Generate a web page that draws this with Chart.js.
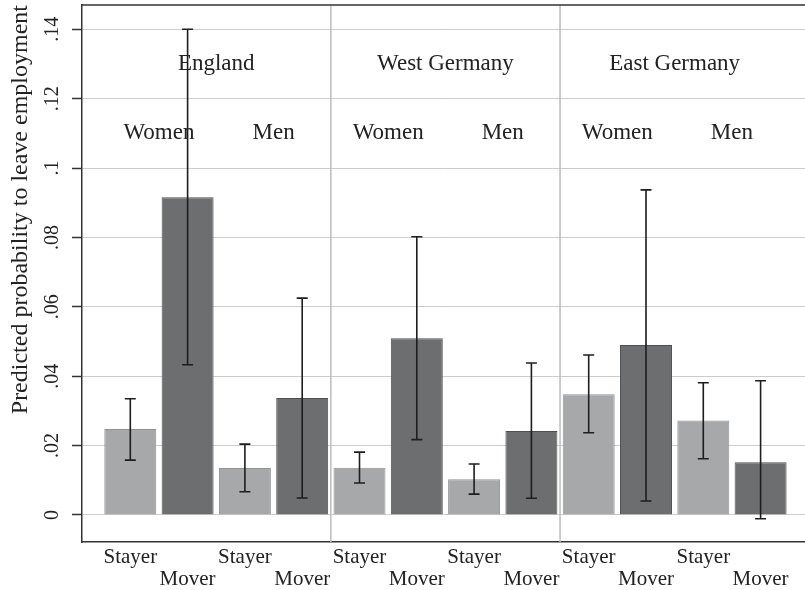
<!DOCTYPE html>
<html>
<head>
<meta charset="utf-8">
<script src="https://cdn.jsdelivr.net/npm/chart.js@4.4.0/dist/chart.umd.min.js"></script>
<style>
  html, body { margin: 0; padding: 0; background: #fff; }
</style>
</head>
<body>
<canvas id="grafico" width="805" height="590"></canvas>
<script>
// dados (12 barras: pais > sexo > stayer/mover)
const paises = ['England', 'West Germany', 'East Germany']
const sexos = ['Women', 'Men']
const tipos = ['Stayer', 'Mover']
const posicoes = [1, 2, 3, 4, 5, 6, 7, 8, 9, 10, 11, 12]
const probabilidade = [0.0248, 0.0916, 0.0135, 0.0337, 0.0136, 0.0509, 0.0103, 0.0242, 0.0348, 0.0490, 0.0272, 0.0152]
const limiteInferior = [0.0158, 0.0433, 0.0067, 0.0049, 0.0092, 0.0217, 0.0060, 0.0048, 0.0237, 0.0040, 0.0162, -0.0011]
const limiteSuperior = [0.0335, 0.1400, 0.0204, 0.0625, 0.0181, 0.0802, 0.0147, 0.0438, 0.0461, 0.0937, 0.0381, 0.0387]
const ticksY = [0, 0.02, 0.04, 0.06, 0.08, 0.1, 0.12, 0.14]

const fonte = "'Liberation Serif', 'Times New Roman', serif"
const corTexto = '#222222'
Chart.defaults.font.family = fonte
Chart.defaults.color = corTexto

const extras = {
    id: 'extras',
    beforeDatasetsDraw(chart) {
        const ctx = chart.ctx
        const area = chart.chartArea
        const x = chart.scales.x
        ctx.save()
        ctx.strokeStyle = '#bdbdbd'
        ctx.lineWidth = 1.5
        for (let p = 1; p < paises.length; p++) {
            const px = x.getPixelForValue(p * 4 + 0.5)
            ctx.beginPath()
            ctx.moveTo(px, area.top)
            ctx.lineTo(px, area.bottom)
            ctx.stroke()
        }
        ctx.restore()
    },
    afterDatasetsDraw(chart) {
        const ctx = chart.ctx
        const x = chart.scales.x
        const y = chart.scales.y
        ctx.save()
        ctx.fillStyle = corTexto
        ctx.font = `23px ${fonte}`
        ctx.textAlign = 'center'
        ctx.textBaseline = 'middle'
        for (let p = 0; p < paises.length; p++) {
            ctx.fillText(paises[p], x.getPixelForValue(p * 4 + 2.5), y.getPixelForValue(0.13))
            for (let s = 0; s < sexos.length; s++) {
                ctx.fillText(sexos[s], x.getPixelForValue(p * 4 + s * 2 + 1.5), y.getPixelForValue(0.11))
            }
        }
        // barras de erro
        ctx.strokeStyle = '#1e1e1e'
        ctx.lineWidth = 1.6
        for (let i = 0; i < posicoes.length; i++) {
            const px = x.getPixelForValue(posicoes[i])
            const topo = y.getPixelForValue(limiteSuperior[i])
            const base = y.getPixelForValue(limiteInferior[i])
            ctx.beginPath()
            ctx.moveTo(px, topo)
            ctx.lineTo(px, base)
            ctx.moveTo(px - 5.5, topo)
            ctx.lineTo(px + 5.5, topo)
            ctx.moveTo(px - 5.5, base)
            ctx.lineTo(px + 5.5, base)
            ctx.stroke()
        }
        ctx.restore()
    },
    afterDraw(chart) {
        const ctx = chart.ctx
        const area = chart.chartArea
        ctx.save()
        ctx.strokeStyle = '#333333'
        ctx.lineWidth = 1.5
        ctx.beginPath()
        ctx.moveTo(area.left, area.top)
        ctx.lineTo(area.right, area.top)
        ctx.stroke()
        ctx.restore()
    }
}

const grafico = new Chart(document.getElementById('grafico'), {
    type: 'bar',
    data: {
        datasets: [{
            data: posicoes.map((p, i) => ({ x: p, y: probabilidade[i] })),
            backgroundColor: posicoes.map((p, i) => i % 2 === 0 ? '#a7a8aa' : '#6d6e70'),
            borderColor: posicoes.map((p, i) => i % 2 === 0 ? '#909193' : '#4f5052'),
            borderWidth: 1,
            barPercentage: 0.907,
            categoryPercentage: 1
        }]
    },
    options: {
        responsive: false,
        animation: false,
        layout: { padding: { top: 5, right: 0, bottom: 0, left: 0 } },
        plugins: {
            legend: { display: false },
            tooltip: { enabled: false }
        },
        scales: {
            x: {
                type: 'linear',
                min: 0.157,
                max: 12.775,
                offset: false,
                afterBuildTicks: (escala) => {
                    escala.ticks = posicoes.map(v => ({ value: v }))
                },
                afterFit: (escala) => {
                    escala.height = 48
                    escala.paddingLeft = 0
                    escala.paddingRight = 0
                },
                grid: { display: false, drawTicks: false },
                border: { display: true, color: '#333333', width: 1.5 },
                ticks: {
                    autoSkip: false,
                    minRotation: 0,
                    maxRotation: 0,
                    padding: 4,
                    color: corTexto,
                    font: { size: 21, lineHeight: 22 / 21 },
                    callback: (v, i) => i % 2 === 0 ? tipos[0] : ['', tipos[1]]
                }
            },
            y: {
                min: -0.0078,
                max: 0.147,
                afterBuildTicks: (escala) => {
                    escala.ticks = ticksY.map(v => ({ value: v }))
                },
                afterFit: (escala) => {
                    escala.width = 82
                    escala.paddingTop = 0
                    escala.paddingBottom = 0
                },
                grid: { color: '#cccccc', lineWidth: 1, tickLength: 10, tickColor: '#333333', tickWidth: 1.5 },
                border: { display: true, color: '#333333', width: 1.5 },
                ticks: {
                    autoSkip: false,
                    minRotation: 90,
                    maxRotation: 90,
                    crossAlign: 'center',
                    padding: 7,
                    color: corTexto,
                    font: { size: 20 },
                    callback: (v) => v === 0 ? '0' : String(v).replace(/^0/, '')
                },
                title: {
                    display: true,
                    text: 'Predicted probability to leave employment',
                    align: 'end',
                    color: corTexto,
                    font: { size: 24 },
                    padding: { top: 6, bottom: 0 }
                }
            }
        }
    },
    plugins: [extras]
})
</script>
</body>
</html>
